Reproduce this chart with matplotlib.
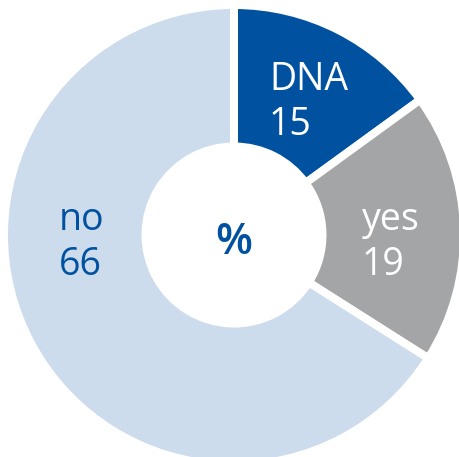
import matplotlib.pyplot as plt

# shares in percent, clockwise from 12 o'clock
labels = ['DNA', 'yes', 'no']
values = [15, 19, 66]
colors = ['#0052a0', '#a4a5a7', '#ccdcec']
text_colors = ['white', 'white', '#0052a0']
# left edge / baselines of the two text lines (pixels from top-left)
label_pos = [(269, 90, 135), (362, 230, 275), (59, 230, 275)]

W, H = 459, 457
fig = plt.figure(figsize=(W / 100, H / 100), dpi=100)
ax = fig.add_axes([0, 0, 1, 1])

cx, cy = 234, H - 235
lw = 8 * 72 / 100  # 8 px white gap
ax.pie(values, colors=colors, startangle=90, counterclock=False,
       center=(cx, cy), radius=230, frame=True,
       wedgeprops=dict(width=141.5, edgecolor='white', linewidth=lw))
ax.set_xlim(0, W)
ax.set_ylim(0, H)
ax.set_aspect('equal')
ax.axis('off')

font = 'Open Sans'
for lab, val, tc, (x, y1, y2) in zip(labels, values, text_colors, label_pos):
    ax.text(x, H - y1, lab, color=tc, fontsize=27, family=font,
            ha='left', va='baseline')
    ax.text(x, H - y2, str(val), color=tc, fontsize=27, family=font,
            ha='left', va='baseline')

ax.text(cx, H - 254, '%', color='#0052a0', fontsize=31, family=font,
        fontweight='semibold', ha='center', va='baseline')

fig.savefig('out.png', dpi=100)
